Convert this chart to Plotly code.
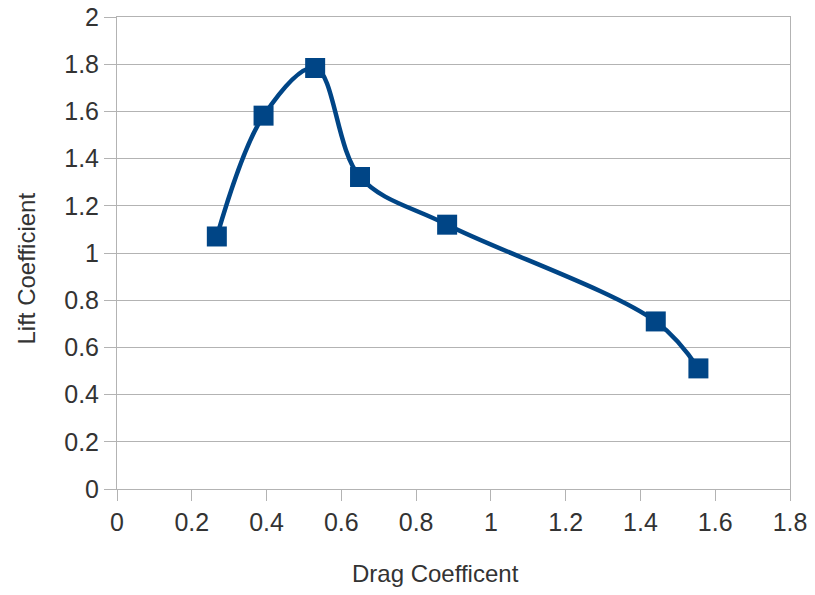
import plotly.graph_objects as go

drag = [0.267, 0.392, 0.530, 0.650, 0.883, 1.441, 1.555]
lift = [1.070, 1.582, 1.784, 1.322, 1.120, 0.710, 0.511]
x_ticks = [0, 0.2, 0.4, 0.6, 0.8, 1, 1.2, 1.4, 1.6, 1.8]
y_ticks = [0, 0.2, 0.4, 0.6, 0.8, 1, 1.2, 1.4, 1.6, 1.8, 2]
x_title = "Drag Coefficent"
y_title = "Lift Coefficient"

color = "#004586"
fig = go.Figure(go.Scatter(
    x=drag, y=lift, mode="lines+markers",
    line=dict(color=color, width=4.5, shape="spline", smoothing=1),
    marker=dict(symbol="square", size=20, color=color),
))
fam = "Liberation Sans, Arial, sans-serif"
font = dict(family=fam, size=24, color="#333333")
tickfont = dict(family=fam, size=25, color="#333333")
fig.update_layout(
    width=815, height=595,
    margin=dict(l=117, r=25, t=17, b=106, autoexpand=False),
    paper_bgcolor="white", plot_bgcolor="white",
    showlegend=False, font=font,
    annotations=[
        dict(text=x_title, xref="paper", yref="paper", x=0.4738, y=-0.178,
             xanchor="center", yanchor="middle", showarrow=False, font=font),
        dict(text=y_title, xref="paper", yref="paper", x=-0.134, y=0.4667,
             xanchor="center", yanchor="middle", showarrow=False, textangle=-90, font=font),
    ],
)
fig.update_xaxes(
    range=[0, 1.8], tickvals=x_ticks, ticktext=[str(v) for v in x_ticks],
    tickfont=tickfont, automargin=False,
    showgrid=False, showline=True, linecolor="#b3b3b3", linewidth=1, mirror=True,
    ticks="outside", ticklen=11, tickcolor="#b3b3b3",
    zeroline=False,
)
fig.update_yaxes(
    range=[0, 2], tickvals=y_ticks, ticktext=[str(v) for v in y_ticks],
    tickfont=tickfont, automargin=False,
    showgrid=True, gridcolor="#b3b3b3", gridwidth=1,
    showline=True, linecolor="#b3b3b3", linewidth=1, mirror=True,
    ticks="outside", ticklen=12, tickcolor="#b3b3b3",
    zeroline=False,
)
fig.write_html("out.html", config={"displayModeBar": False},
               post_script="document.body.style.margin='0';")
